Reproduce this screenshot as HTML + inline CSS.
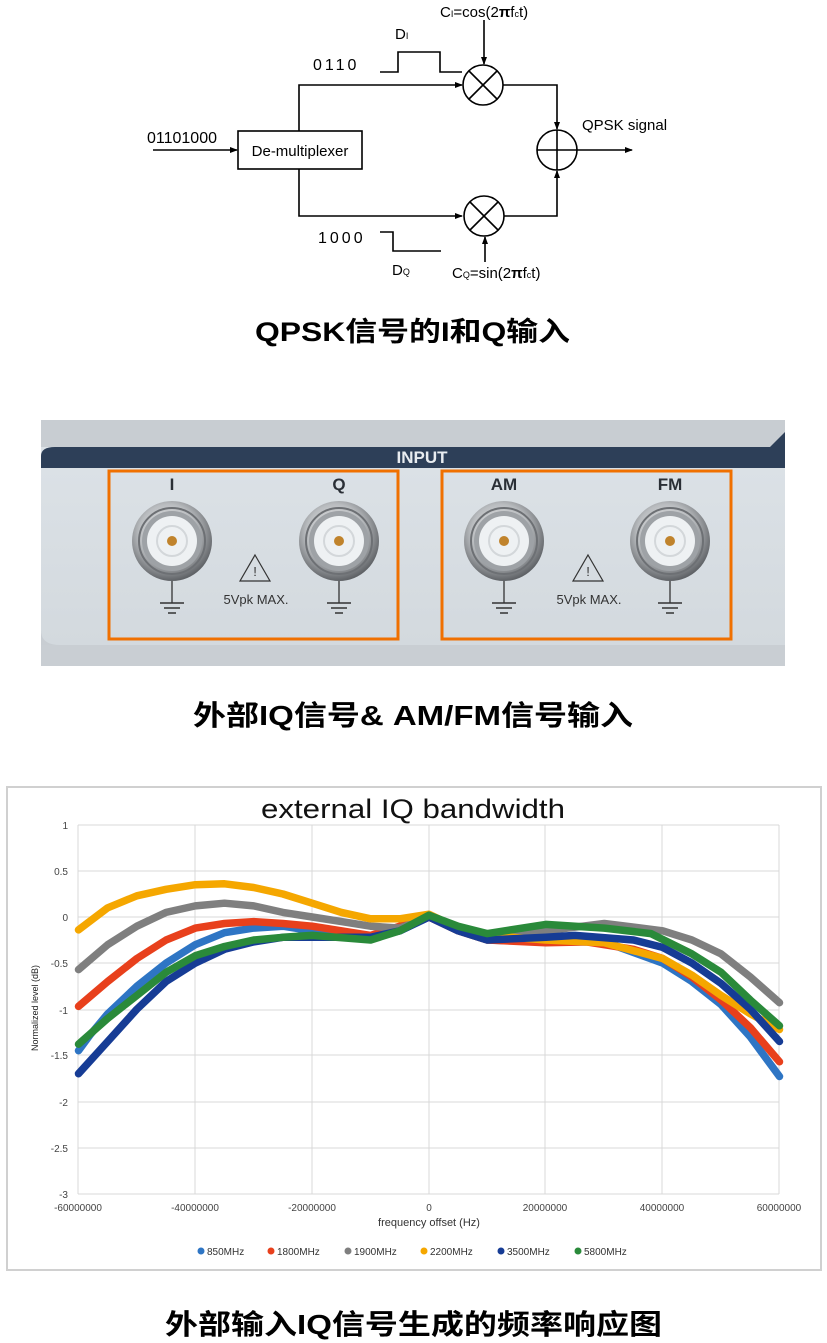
<!DOCTYPE html>
<html><head><meta charset="utf-8"><style>
body{margin:0;width:827px;height:1343px;background:#fff;overflow:hidden;font-family:"Liberation Sans","Noto Sans CJK SC",sans-serif}
svg{position:absolute;left:0;top:0}
</style></head><body>
<svg width="827" height="1343" viewBox="0 0 827 1343" xmlns="http://www.w3.org/2000/svg">
<defs>
<marker id="ar" markerWidth="8" markerHeight="8" refX="7" refY="4" orient="auto" markerUnits="userSpaceOnUse"><path d="M0,1 L8,4 L0,7z" fill="#000"/></marker>
<radialGradient id="met" cx="45%" cy="40%" r="60%"><stop offset="0" stop-color="#f4f4f4"/><stop offset="0.6" stop-color="#b9bcbf"/><stop offset="1" stop-color="#5f6266"/></radialGradient>
<linearGradient id="pan" x1="0" y1="0" x2="0" y2="1"><stop offset="0" stop-color="#dce2e7"/><stop offset="1" stop-color="#d3d9de"/></linearGradient>
</defs>
<g fill="none" stroke="#000" stroke-width="1.6">
<rect x="238" y="131" width="124" height="38"/>
<line x1="153" y1="150" x2="237" y2="150" marker-end="url(#ar)"/>
<polyline points="299,131 299,85 462,85" marker-end="url(#ar)"/>
<polyline points="299,169 299,216 462,216" marker-end="url(#ar)"/>
<circle cx="483" cy="85" r="20"/><line x1="469" y1="71" x2="497" y2="99"/><line x1="497" y1="71" x2="469" y2="99"/>
<circle cx="484" cy="216" r="20"/><line x1="470" y1="202" x2="498" y2="230"/><line x1="498" y1="202" x2="470" y2="230"/>
<circle cx="557" cy="150" r="20"/><line x1="537" y1="150" x2="577" y2="150"/><line x1="557" y1="130" x2="557" y2="170"/>
<polyline points="503,85 557,85 557,129" marker-end="url(#ar)"/>
<polyline points="504,216 557,216 557,171" marker-end="url(#ar)"/>
<line x1="577" y1="150" x2="632" y2="150" marker-end="url(#ar)"/>
<line x1="484" y1="20" x2="484" y2="64" marker-end="url(#ar)"/>
<line x1="485" y1="262" x2="485" y2="237" marker-end="url(#ar)"/>
<polyline points="380,72 398,72 398,52 440,52 440,72 462,72"/>
<polyline points="380,232 393,232 393,251 441,251"/>
</g>
<g font-family="Liberation Sans, sans-serif" fill="#000">
<text x="147" y="143" font-size="16">01101000</text>
<text x="300" y="156" font-size="15" text-anchor="middle">De-multiplexer</text>
<text x="582" y="130" font-size="15">QPSK signal</text>
<text x="313" y="70" font-size="16" letter-spacing="3">0110</text>
<text x="318" y="243" font-size="16" letter-spacing="3">1000</text>
<text x="395" y="39" font-size="15">D<tspan font-size="9">I</tspan></text>
<text x="392" y="275" font-size="15">D<tspan font-size="9">Q</tspan></text>
<text x="440" y="17" font-size="15">C<tspan font-size="9">I</tspan>=cos(2<tspan font-weight="bold">π</tspan>f<tspan font-size="9">c</tspan>t)</text>
<text x="452" y="278" font-size="15">C<tspan font-size="9">Q</tspan>=sin(2<tspan font-weight="bold">π</tspan>f<tspan font-size="9">c</tspan>t)</text>
</g>
<text x="255" y="341" font-size="27" font-weight="bold" textLength="315" lengthAdjust="spacingAndGlyphs" font-family="Liberation Sans, Noto Sans CJK SC, sans-serif">QPSK信号的I和Q输入</text>
<rect x="41" y="420" width="744" height="246" fill="#c8cdd2"/>
<path d="M41,447 L785,447 L785,645 L60,645 Q41,645 41,630z" fill="url(#pan)"/>
<path d="M41,468 L41,456 Q41,447 55,447 L770,447 L785,432 L785,468z" fill="#2d3f58"/>
<rect x="41" y="645" width="744" height="21" fill="#c9ced3"/>
<text x="422" y="463" font-size="17" font-weight="bold" fill="#e8ecf0" text-anchor="middle">INPUT</text>
<rect x="109" y="471" width="289" height="168" fill="none" stroke="#f07000" stroke-width="3"/>
<rect x="442" y="471" width="289" height="168" fill="none" stroke="#f07000" stroke-width="3"/>
<g font-size="17" font-weight="bold" fill="#2a2f36" text-anchor="middle">
<text x="172" y="490">I</text><text x="339" y="490">Q</text><text x="504" y="490">AM</text><text x="670" y="490">FM</text>
</g>
<g id="con">
<circle cx="172" cy="541" r="40" fill="url(#met)"/>
<circle cx="172" cy="541" r="33" fill="none" stroke="#6d7074" stroke-width="2"/>
<circle cx="172" cy="541" r="30" fill="#9ea2a6"/>
<circle cx="172" cy="541" r="25" fill="#eef1f3"/>
<circle cx="172" cy="541" r="15" fill="none" stroke="#d3d7da" stroke-width="2"/>
<circle cx="172" cy="541" r="5" fill="#c0832c"/>
<line x1="172" y1="581" x2="172" y2="603" stroke="#333" stroke-width="1.3"/>
<line x1="160" y1="603" x2="184" y2="603" stroke="#333" stroke-width="1.5"/>
<line x1="164" y1="608" x2="180" y2="608" stroke="#333" stroke-width="1.5"/>
<line x1="168" y1="613" x2="176" y2="613" stroke="#333" stroke-width="1.5"/>
</g>
<use href="#con" x="167"/><use href="#con" x="332"/><use href="#con" x="498"/>
<g fill="none" stroke="#333" stroke-width="1.2">
<path d="M255,555 L270,581 L240,581z"/><path d="M588,555 L603,581 L573,581z"/>
</g>
<g font-size="13" fill="#333" text-anchor="middle"><text x="255" y="576">!</text><text x="588" y="576">!</text>
<text x="256" y="604">5Vpk  MAX.</text><text x="589" y="604">5Vpk  MAX.</text></g>
<text x="193" y="725" font-size="28" font-weight="bold" textLength="440" lengthAdjust="spacingAndGlyphs" font-family="Liberation Sans, Noto Sans CJK SC, sans-serif">外部IQ信号&amp; AM/FM信号输入</text>
<rect x="7" y="787" width="814" height="483" fill="#fff" stroke="#d0d0d0" stroke-width="2"/>
<text x="261" y="818" font-size="27" fill="#111" textLength="304" lengthAdjust="spacingAndGlyphs">external IQ bandwidth</text>
<g stroke="#d9d9d9" stroke-width="1">
<line x1="78" y1="825" x2="779" y2="825"/><line x1="78" y1="871" x2="779" y2="871"/><line x1="78" y1="917" x2="779" y2="917"/>
<line x1="78" y1="963" x2="779" y2="963"/><line x1="78" y1="1010" x2="779" y2="1010"/><line x1="78" y1="1055" x2="779" y2="1055"/>
<line x1="78" y1="1102" x2="779" y2="1102"/><line x1="78" y1="1148" x2="779" y2="1148"/><line x1="78" y1="1194" x2="779" y2="1194"/>
<line x1="78" y1="825" x2="78" y2="1194"/><line x1="195" y1="825" x2="195" y2="1194"/><line x1="312" y1="825" x2="312" y2="1194"/>
<line x1="429" y1="825" x2="429" y2="1194"/><line x1="545" y1="825" x2="545" y2="1194"/><line x1="662" y1="825" x2="662" y2="1194"/><line x1="779" y1="825" x2="779" y2="1194"/>
</g>
<g font-size="10" fill="#444" text-anchor="end">
<text x="68" y="829">1</text><text x="68" y="875">0.5</text><text x="68" y="921">0</text><text x="68" y="967">-0.5</text><text x="68" y="1014">-1</text><text x="68" y="1059">-1.5</text><text x="68" y="1106">-2</text><text x="68" y="1152">-2.5</text><text x="68" y="1198">-3</text>
</g>
<g font-size="10" fill="#444" text-anchor="middle">
<text x="78" y="1211">-60000000</text><text x="195" y="1211">-40000000</text><text x="312" y="1211">-20000000</text><text x="429" y="1211">0</text><text x="545" y="1211">20000000</text><text x="662" y="1211">40000000</text><text x="779" y="1211">60000000</text>
</g>
<text x="429" y="1226" font-size="11" fill="#333" text-anchor="middle">frequency offset (Hz)</text>
<text transform="translate(38,1008) rotate(-90)" font-size="9" fill="#222" text-anchor="middle">Normalized level (dB)</text>
<g fill="none" stroke-width="7.5" stroke-linejoin="round" stroke-linecap="round">
<polyline stroke="#2e75c4" points="78.5,1050.7 90,1035 107.7,1013.8 136.9,986.2 166.1,963.1 195.3,944.7 224.5,932.7 253.7,928.1 282.9,926.2 312.2,930.8 370.6,937.3 399.8,930.8 429,917 458.2,930.8 487.4,940 545.8,941.9 604.3,941.9 662.7,963.1 691.9,981.5 721.1,1004.6 750.3,1036.9 779.5,1076.5"/>
<polyline stroke="#e8401c" points="78.5,1006.4 107.7,981.5 136.9,958.5 166.1,940 195.3,928.1 224.5,923.5 253.7,921.6 282.9,923.5 312.2,926.2 370.6,935.4 399.8,926.2 429,917 458.2,930.8 487.4,940 545.8,942.8 586.7,941.9 633.5,949.3 662.7,958.5 691.9,976.9 721.1,1000 750.3,1027.6 779.5,1061.8"/>
<polyline stroke="#7f7f7f" points="78.5,969.6 107.7,944.7 136.9,926.2 166.1,912.4 195.3,905.9 224.5,903.2 253.7,905.9 282.9,912.4 312.2,917 341.4,921.6 370.6,926.2 399.8,928.1 429,917 458.2,928.1 487.4,935.4 545.8,930.8 604.3,923.5 662.7,930.8 691.9,940 721.1,953.9 750.3,976.9 779.5,1002.7"/>
<polyline stroke="#f5a700" points="78.5,929.9 107.7,907.8 136.9,895.8 166.1,889.3 195.3,884.7 224.5,883.8 253.7,887.5 282.9,894 312.2,903.2 341.4,912.4 370.6,918.8 399.8,918.8 429,914.2 458.2,928.1 487.4,935.4 545.8,940 604.3,942.8 662.7,958.5 691.9,975.1 721.1,995.4 750.3,1013.8 779.5,1029.5"/>
<polyline stroke="#163c95" points="78.5,1073.7 107.7,1041.5 136.9,1009.2 166.1,981.5 195.3,963.1 224.5,949.3 253.7,941.9 282.9,937.3 312.2,937.3 370.6,937.3 399.8,930.8 429,917 458.2,930.8 487.4,940 545.8,937.3 575,935.4 633.5,940 662.7,947.4 691.9,963.1 721.1,983.4 750.3,1009.2 779.5,1041.5"/>
<polyline stroke="#2a8a3a" points="78.5,1044.2 107.7,1018.4 136.9,995.4 166.1,972.3 195.3,955.7 224.5,946.5 253.7,940 282.9,937.3 312.2,935.4 370.6,940 399.8,930.8 429,915.2 458.2,926.2 487.4,933.6 545.8,924.4 604.3,928.1 651,933.6 691.9,953.9 721.1,972.3 750.3,1000 779.5,1025.8"/>
</g>
<g font-size="10" fill="#333">
<circle cx="201" cy="1251" r="3.5" fill="#2e75c4"/><text x="207" y="1255">850MHz</text>
<circle cx="271" cy="1251" r="3.5" fill="#e8401c"/><text x="277" y="1255">1800MHz</text>
<circle cx="348" cy="1251" r="3.5" fill="#7f7f7f"/><text x="354" y="1255">1900MHz</text>
<circle cx="424" cy="1251" r="3.5" fill="#f5a700"/><text x="430" y="1255">2200MHz</text>
<circle cx="501" cy="1251" r="3.5" fill="#163c95"/><text x="507" y="1255">3500MHz</text>
<circle cx="578" cy="1251" r="3.5" fill="#2a8a3a"/><text x="584" y="1255">5800MHz</text>
</g>
<text x="165" y="1334" font-size="28" font-weight="bold" textLength="497" lengthAdjust="spacingAndGlyphs" font-family="Liberation Sans, Noto Sans CJK SC, sans-serif">外部输入IQ信号生成的频率响应图</text>
</svg>
</body></html>
